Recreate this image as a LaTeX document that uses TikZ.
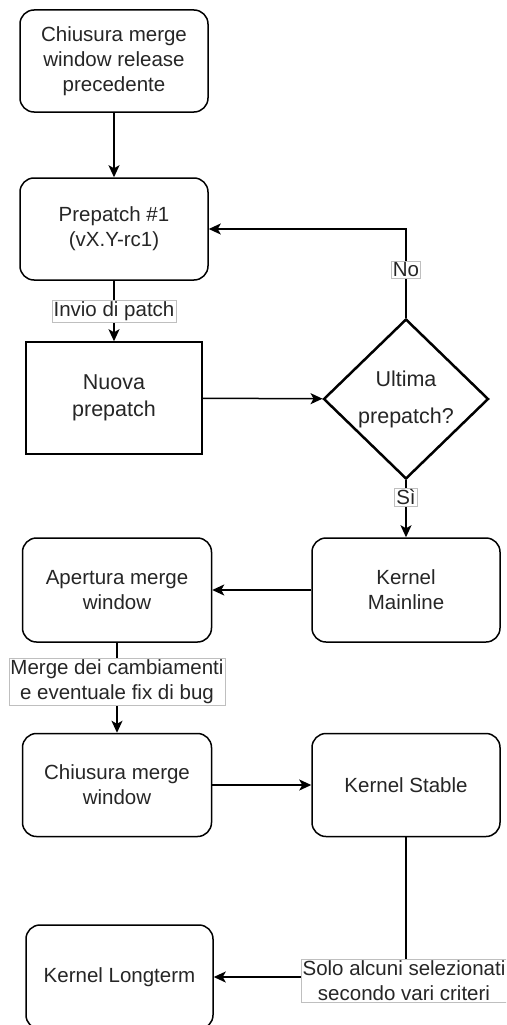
\documentclass[tikz,border=0pt]{standalone}
\usepackage{fontspec}
\setmainfont{Liberation Sans}
\usetikzlibrary{shapes.geometric,arrows.meta}
\begin{document}
\begin{tikzpicture}[x=1pt,y=-1pt,
  txt/.style={font=\fontsize{20.5}{25}\selectfont, text=black!85, align=center},
  box/.style={txt, draw, line width=1.5pt, rounded corners=14pt,
              minimum width=188pt, minimum height=102pt, inner sep=0pt},
  sqbox/.style={txt, draw, line width=1.5pt, minimum width=176pt,
              minimum height=112pt, inner sep=0pt, font=\fontsize{21.5}{27}\selectfont},
  decision/.style={txt, draw, diamond, line width=2.5pt, minimum width=165pt,
              minimum height=160pt, inner sep=0pt, font=\fontsize{21.5}{26}\selectfont},
  lbl/.style={txt, fill=white, draw=black!25, line width=0.8pt, inner sep=1.5pt},
  conn/.style={line width=1.5pt, -{Stealth[length=12pt,width=11pt,inset=3pt]}}
]
\clip (0,0) rectangle (506,1025);
\fill[white] (0,0) rectangle (506,1025);

% nodes
\node[box] (prev)  at (114,61)   {Chiusura merge\\window release\\precedente};
\node[box] (rc1)   at (114,229)  {Prepatch \#1\\(vX.Y-rc1)};
\node[sqbox] (new) at (114,398)  {Nuova\\prepatch};
\node[decision] (last) at (406,399) {Ultima\\[11pt]prepatch?};
\node[box, minimum height=104pt] (main) at (406,590) {Kernel\\Mainline};
\node[box, minimum width=189pt, minimum height=104pt] (open) at (117,590) {Apertura merge\\window};
\node[box, minimum width=189pt, minimum height=103pt] (close) at (117,785) {Chiusura merge\\window};
\node[box, minimum height=103pt] (stable) at (406,785) {Kernel Stable};
\node[box, minimum width=187pt, minimum height=104pt] (lt) at (119.5,977) {Kernel Longterm};

% connectors
\draw[conn] (prev) -- (rc1);
\draw[conn] (rc1) -- node[lbl] {Invio di patch} (new);
\draw[conn] (new) -- (last);
\draw[conn] (last.north) |- node[lbl, pos=0.27] {No} (rc1.east);
\draw[conn] (last.south) -- node[lbl, pos=0.3] {Sì} (main.north);
\draw[conn] (main) -- (open);
\draw[conn] (open) -- node[lbl, pos=0.43] {Merge dei cambiamenti\\e eventuale fix di bug} (close);
\draw[conn] (close) -- (stable);
\draw[conn] (stable.south) |- node[lbl, pos=0.5, xshift=-2pt, yshift=-4pt] {Solo alcuni selezionati\\secondo vari criteri} (lt.east);
\end{tikzpicture}
\end{document}
